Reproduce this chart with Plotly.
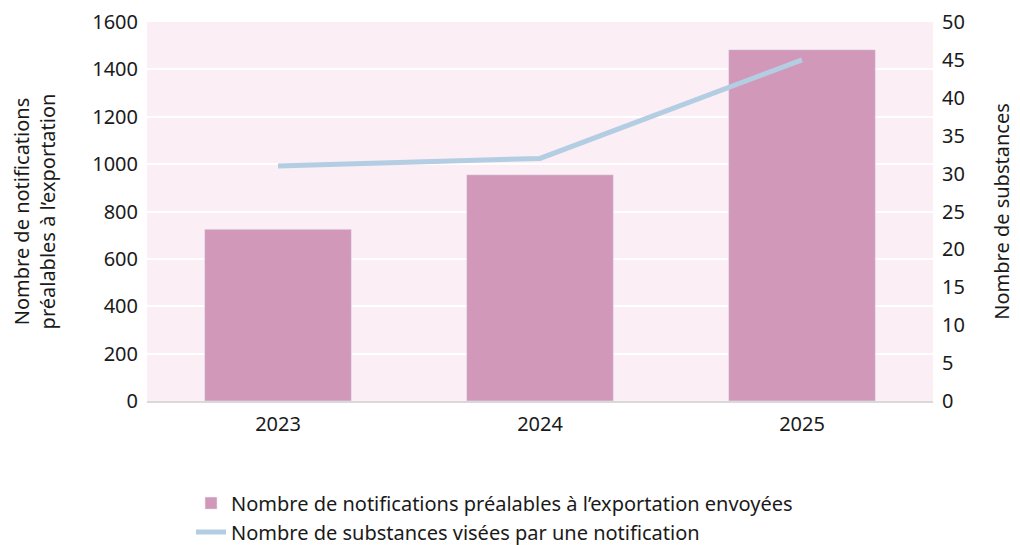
import plotly.graph_objects as go

# values
years = ["2023", "2024", "2025"]
notifications = [725, 955, 1483]
substances = [31, 32, 45]

bar_name = "Nombre de notifications préalables à l’exportation envoyées"
line_name = "Nombre de substances visées par une notification"

FONT = "Noto Sans"
FS = 20

fig = go.Figure()
fig.add_trace(go.Bar(
    x=years, y=notifications, name=bar_name,
    marker_color="#D198B9", width=0.56,
))
fig.add_trace(go.Scatter(
    x=years, y=substances, name=line_name, yaxis="y2",
    mode="lines", line=dict(color="#B3CDE3", width=5),
))

# the page adds an 8px body margin, so the figure is shrunk to fit the window
fig.update_layout(
    width=1012, height=537,
    margin=dict(l=139, r=87, t=14, b=144, autoexpand=False),
    paper_bgcolor="white",
    plot_bgcolor="#FCEEF5",
    font=dict(family=FONT, size=FS, color="#1a1a1a"),
    xaxis=dict(
        showgrid=False, showline=True, linecolor="#D9D9D9", linewidth=2,
        ticks="", tickfont=dict(size=FS), automargin=False,
        ticklabelstandoff=4,
    ),
    yaxis=dict(
        range=[0, 1600], dtick=200, gridcolor="white", gridwidth=2,
        zeroline=False, ticks="", tickfont=dict(size=FS), automargin=False,
        ticklabelstandoff=8, ticklabeloverflow="allow",
        title=dict(text="Nombre de notifications<br>préalables à l’exportation",
                   font=dict(size=FS), standoff=31),
    ),
    yaxis2=dict(
        range=[0, 50], dtick=5, overlaying="y", side="right",
        showgrid=False, zeroline=False, ticks="", tickfont=dict(size=FS),
        automargin=False, ticklabelstandoff=8, ticklabeloverflow="allow",
        title=dict(text="Nombre de substances", font=dict(size=FS), standoff=31),
    ),
    legend=dict(
        orientation="v", x=0.056, y=-0.218, xanchor="left", yanchor="top",
        font=dict(size=FS), traceorder="normal", tracegroupgap=2,
        bgcolor="rgba(0,0,0,0)",
    ),
    showlegend=True,
)

fig.write_html("out.html")
